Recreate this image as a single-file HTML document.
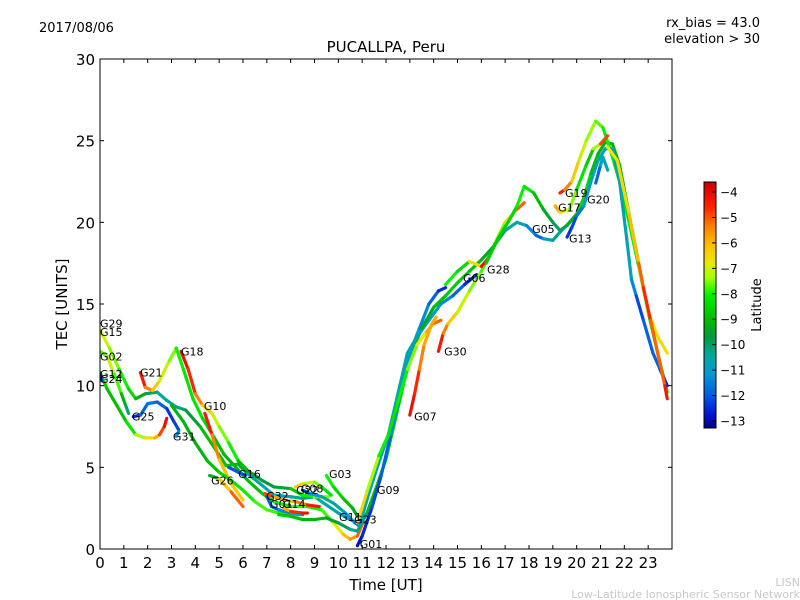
<!DOCTYPE html>
<html><head><meta charset="utf-8"><style>
html,body{margin:0;padding:0;background:#fff;width:800px;height:600px;overflow:hidden}
svg text{font-family:"DejaVu Sans","Liberation Sans",sans-serif}
</style></head><body>
<svg id="chart" width="800" height="600" xmlns="http://www.w3.org/2000/svg">
<defs>
<linearGradient id="cbgrad" x1="0" y1="1" x2="0" y2="0">
<stop offset="0" stop-color="#000090"/>
<stop offset="0.06" stop-color="#0018d0"/>
<stop offset="0.14" stop-color="#0060e0"/>
<stop offset="0.22" stop-color="#0098d8"/>
<stop offset="0.29" stop-color="#00a8a0"/>
<stop offset="0.37" stop-color="#009a40"/>
<stop offset="0.44" stop-color="#00bb00"/>
<stop offset="0.54" stop-color="#00ee00"/>
<stop offset="0.61" stop-color="#a0ff00"/>
<stop offset="0.67" stop-color="#e8e800"/>
<stop offset="0.74" stop-color="#ffc000"/>
<stop offset="0.82" stop-color="#ff8000"/>
<stop offset="0.9" stop-color="#ff2000"/>
<stop offset="1" stop-color="#c80000"/>
</linearGradient>
<clipPath id="plotclip"><rect x="100" y="59" width="572" height="490"/></clipPath>
</defs>
<text x="39" y="32" font-size="13">2017/08/06</text>
<text x="760" y="27" font-size="13" text-anchor="end">rx_bias = 43.0</text>
<text x="760" y="43" font-size="13" text-anchor="end">elevation &gt; 30</text>
<text x="386" y="52" font-size="15" text-anchor="middle">PUCALLPA, Peru</text>
<text x="386" y="590" font-size="15" text-anchor="middle">Time [UT]</text>
<text x="67" y="304" font-size="15" text-anchor="middle" transform="rotate(-90 67 304)">TEC [UNITS]</text>
<text x="800" y="586" font-size="11" fill="#c8c8c8" text-anchor="end">LISN</text>
<text x="800" y="598" font-size="11" fill="#c8c8c8" text-anchor="end">Low-Latitude Ionospheric Sensor Network</text>
<g id="tracks" clip-path="url(#plotclip)"></g>
<g id="labels"></g>
<rect x="100" y="59" width="572" height="490" fill="none" stroke="#000" stroke-width="1"/>
<g id="axes"></g>
<rect x="704" y="182" width="12" height="246" fill="url(#cbgrad)" stroke="#000" stroke-width="1"/>
<g id="cbaxis"></g>
<text x="761" y="305" font-size="13" text-anchor="middle" transform="rotate(-90 761 305)">Latitude</text>
</svg>
<script>
const xTicks=[0,1,2,3,4,5,6,7,8,9,10,11,12,13,14,15,16,17,18,19,20,21,22,23];
const yTicks=[0,5,10,15,20,25,30];
const cbTicks=[-4,-5,-6,-7,-8,-9,-10,-11,-12,-13];
// each track: [time(h), TEC, latitude]
const trackNames=["G29","G02","G12","G24","G25","G31","G21","G18","G10","G26","G26b","G16","G32","G01a","G14","G08","G22","G03","G11","G01","G09","G23","G07","G30","G28","G06","G05","G19","G17","G13","G20","G27"];
const trackG29=[[0,13.4,-7],[0.4,12.3,-7.5],[0.8,11,-8],[1.2,9.8,-8.5],[1.5,9.2,-9],[1.9,9.5,-10],[2.4,9.6,-10.5],[2.8,9.1,-11],[3.2,8.7,-10.5],[3.6,8.5,-10.5],[4.2,7.5,-9.5],[4.8,6.2,-9],[5.3,5.1,-9.5],[5.8,5.2,-9],[6.2,4.6,-10.5],[6.8,3.9,-11],[7.3,3.3,-11],[8,3.2,-11],[8.5,3.1,-10.5],[9,3.2,-10.5],[9.5,2.7,-11],[10,2.2,-11],[10.5,1.8,-11.5],[10.8,1.6,-12]];
const trackG02=[[0,12.1,-8.5],[0.3,11.8,-7.5],[0.6,10.7,-7],[0.9,9.5,-9],[1.1,8.7,-10],[1.2,8.3,-11]];
const trackG12=[[0,10.8,-9],[0.3,9.8,-9],[0.7,8.8,-9.5],[1.1,7.8,-9],[1.5,7,-8],[1.9,6.8,-7],[2.3,6.8,-6.5],[2.5,7,-5.5],[2.7,7.5,-4.5],[2.8,8,-4]];
const trackG24=[[0,10.6,-12.8],[0.08,10.3,-12.5]];
const trackG25=[[1.4,8.1,-13],[1.7,8.2,-12.5],[2,8.9,-12],[2.4,9,-12],[2.8,8.6,-12.5],[3.1,7.8,-12.8],[3.3,7.3,-12.3]];
const trackG31=[[3.3,7.2,-11.8],[3.2,6.9,-11.5]];
const trackG21=[[1.7,10.8,-4],[1.9,9.9,-5],[2.2,9.7,-6],[2.5,10.3,-7],[2.9,11.5,-7.5],[3.2,12.3,-8],[3.5,11,-8.5],[3.9,9.2,-8.5],[4.3,8,-8.5],[4.8,6.8,-9],[5.2,5.8,-9.5],[5.7,5,-9.5],[6.2,4.2,-9.5],[6.8,3.4,-9],[7.3,2.9,-8.5],[8,2.6,-8],[8.7,2.6,-8],[9.3,2.4,-8.5],[9.8,1.6,-7.5],[10.2,0.9,-6.5],[10.5,0.6,-6],[10.8,0.8,-5.5],[11,1.5,-5]];
const trackG18=[[3.4,12.1,-4],[3.7,11,-4.5],[4,9.5,-5],[4.3,8.8,-6],[4.7,8.3,-7],[5,7.5,-7.5],[5.4,6.5,-8],[5.8,5.4,-8.5],[6.2,4.8,-10],[6.8,4.2,-10],[7.3,3.8,-10],[8,3.7,-9.5],[8.5,3.3,-8.5],[9,3.2,-8],[9.6,3.2,-7.5]];
const trackG10=[[4.4,8.3,-4],[4.7,7,-5],[5,5.5,-6],[5.5,4,-6.5],[6,3,-6.5]];
const trackG26=[[3,8.8,-9.5],[3.5,7.8,-9.5],[4,6.5,-9.5],[4.5,5.4,-9.5],[5,4.7,-9],[5.5,4.2,-8.5],[6,3.6,-8.5],[6.5,2.9,-8],[7,2.4,-8],[7.5,2.2,-8],[8,2.1,-8.5],[8.5,2.1,-8]];
const trackG26b=[[4.6,4.5,-12.5],[5,4.3,-7],[5.5,3.5,-6],[6,2.6,-4.5]];
const trackG16=[[5.4,5,-12],[5.8,4.7,-12.8],[6.1,4.5,-12]];
const trackG32=[[6.9,3.4,-4.5],[7.3,3.2,-5.5],[7.7,3,-6.5],[8.2,2.9,-6],[8.7,2.7,-5],[9.2,2.6,-4]];
const trackG01a=[[7,3.2,-12],[7.2,2.6,-12.5],[7.5,2.4,-12],[8,2.2,-11.5],[8.5,2.1,-11]];
const trackG14=[[7.7,2.5,-7],[8,2.3,-5],[8.5,2.2,-4.5],[8.7,2.2,-4]];
const trackG08=[[8.2,3.8,-6],[8.5,4,-7],[9,4.1,-7.5],[9.3,3.8,-8],[9.7,3.3,-9]];
const trackG22=[[8.5,3.6,-13],[8.8,3.4,-12],[9.3,3.2,-11],[9.8,2.8,-10.5],[10.3,2.2,-11],[10.7,1.6,-12],[10.9,1.4,-12.5]];
const trackG03=[[9.5,4.5,-8],[9.8,3.8,-8.5],[10.2,3.1,-9],[10.6,2.5,-9.5],[10.8,2,-10]];
const trackG11=[[7.5,2.1,-9],[8,2,-9],[8.5,1.8,-9.5],[9,1.8,-9.5],[9.5,1.9,-9.5],[10,1.6,-10],[10.5,1.2,-10.5],[10.8,1.1,-11],[11.2,2.2,-10],[11.6,3.8,-9],[12,5.5,-9],[12.4,8,-9],[12.8,10.5,-9],[13.2,12.5,-9.5],[13.6,13.8,-10]];
const trackG01=[[10.8,0.2,-13],[11,0.8,-13],[11.4,2.5,-12.5],[11.8,4.5,-12.5],[12.2,7,-12],[12.6,9.5,-11.5],[13,12,-11.5],[13.4,13.5,-11.5],[13.8,15,-12],[14.2,15.8,-12.5],[14.5,16,-13]];
const trackG09=[[10.9,1.5,-11],[11.3,3.5,-11],[11.7,5.3,-11],[12.1,7,-11],[12.5,9.5,-11],[12.9,12,-11],[13.3,13,-11],[13.8,14,-11],[14.3,15,-11.5],[14.8,15.5,-12],[15.3,16.2,-12.5],[15.8,16.8,-13]];
const trackG23=[[10.8,1.6,-6.5],[11.2,3.5,-7],[11.7,5.7,-8],[12.1,7,-8.5],[12.5,9,-8.5],[12.9,11,-8],[13.3,12.5,-7.5],[13.7,13.3,-6.5],[14,13.8,-5.5],[14.3,14,-5]];
const trackG07=[[13,8.2,-4],[13.2,9.5,-4.5],[13.4,11,-5],[13.6,12.5,-6],[13.9,13.7,-6],[14.1,14.2,-6]];
const trackG30=[[14.2,12.1,-4],[14.4,13.2,-5],[14.6,13.8,-6],[15,14.5,-7],[15.5,15.8,-7.5],[16,17,-8],[16.5,18.5,-8],[17,20,-7.5],[17.5,20.8,-6],[17.8,21.2,-4.5]];
const trackG28=[[13.5,13.5,-10],[14,14.8,-9.5],[14.5,15.5,-9],[15,16.3,-9],[15.5,17,-9],[16,17.7,-9.5],[16.5,18.5,-10],[17,19.5,-10.5],[17.5,20,-11],[17.9,19.8,-11],[18.3,19.2,-12.5],[18.6,19,-12],[19,18.9,-10.5],[19.3,19.4,-10.5],[19.7,20,-11.5],[20,20.5,-12.5]];
const trackG06=[[14.5,16.2,-8],[15,17,-8.5],[15.5,17.6,-9],[16,17.3,-4.5],[16.3,17.8,-4]];
const trackG05=[[16.2,17.5,-9],[16.7,19,-9],[17.2,20.2,-9],[17.5,21,-8.5],[17.8,22.2,-8],[18.2,21.8,-9],[18.6,20.8,-9.5],[19,20,-10],[19.3,19.5,-10.5],[19.6,19.8,-10],[20,20.5,-9],[20.3,21.5,-8.5],[20.6,23,-9],[20.9,24.2,-9.5],[21.2,24.9,-9.5],[21.5,24.8,-9.5],[21.8,23.5,-9.5],[22.2,20.5,-9.5],[22.6,17.5,-9.5],[23,14.5,-8.5],[23.4,12,-8.5],[23.8,9.6,-9]];
const trackG19=[[19.3,21.8,-4],[19.5,22,-5],[19.8,22.5,-6],[20.1,23.8,-7],[20.4,25,-7.5],[20.8,26.2,-7.8],[21.1,25.8,-8],[21.4,24.5,-8.5],[21.8,22.5,-8.5],[22.2,20,-8.5],[22.6,17.3,-8],[23,14.5,-7],[23.4,13,-6.8],[23.8,12,-6.8]];
const trackG17=[[19.1,21,-5.5],[19.3,20.6,-6.5],[19.7,20.8,-7.5],[20,22,-8],[20.4,23.5,-9],[20.7,24.5,-9],[21,24.8,-6],[21.3,25.3,-4]];
const trackG13=[[19.6,19.1,-12.8],[19.8,19.7,-12.5],[20,20.4,-12.5],[20.3,21,-11.5],[20.6,22.5,-11],[20.9,23.8,-11],[21.2,24.5,-11],[21.5,24.5,-11],[21.8,22.5,-11],[22.1,19,-11],[22.3,16.5,-11],[22.5,15.5,-12.5],[22.8,14,-12.5],[23.2,12,-12],[23.5,11,-12.5],[23.8,10,-13]];
const trackG20=[[20.8,22.4,-12.8],[21,23.5,-11.5],[21.1,24,-11],[21.3,23.2,-11]];
const trackG27=[[21.3,24.6,-7],[21.7,23.8,-7],[22.2,20.5,-6.5],[22.6,17.5,-6],[22.8,16,-4.5],[23.1,14,-5],[23.4,12,-5.5],[23.7,10,-5],[23.8,9.2,-4]];
const tracks=[trackG29,trackG02,trackG12,trackG24,trackG25,trackG31,trackG21,trackG18,trackG10,trackG26,trackG26b,trackG16,trackG32,trackG01a,trackG14,trackG08,trackG22,trackG03,trackG11,trackG01,trackG09,trackG23,trackG07,trackG30,trackG28,trackG06,trackG05,trackG19,trackG17,trackG13,trackG20,trackG27];
const labelNames=["G29","G15","G02","G12","G24","G21","G25","G18","G10","G31","G26","G16","G32","G01","G14","G22","G08","G03","G11","G23","G09","G01","G07","G30","G06","G28","G05","G13","G17","G19","G20"];
const labelTimes=[0,0,0,0,0,1.68,1.34,3.4,4.36,3.06,4.66,5.8,6.97,7.13,7.68,8.23,8.43,9.61,10.03,10.66,11.62,10.9,13.18,14.44,15.23,16.24,18.13,19.68,19.22,19.51,20.44];
const labelTecs=[13.8,13.3,11.8,10.7,10.4,10.8,8.1,12.1,8.75,6.9,4.2,4.6,3.25,2.75,2.75,3.6,3.7,4.6,1.95,1.8,3.6,0.3,8.1,12.1,16.6,17.1,19.6,19.0,20.9,21.8,21.4];

const NS="http://www.w3.org/2000/svg";
const X=t=>100+t*(572/24);
const Y=v=>549-v*(490/30);
const cbY=l=>192+(-4-l)*(229/9);
const stops=[[-13.3,[0,0,144]],[-12.9,[0,24,208]],[-12.3,[0,96,224]],[-11.5,[0,152,216]],[-10.8,[0,168,160]],[-10.0,[0,154,64]],[-9.3,[0,187,0]],[-8.3,[0,238,0]],[-7.6,[160,255,0]],[-7.0,[232,232,0]],[-6.3,[255,192,0]],[-5.5,[255,128,0]],[-4.7,[255,32,0]],[-3.6,[200,0,0]]];
function color(l){
 if(l<=stops[0][0])return "rgb("+stops[0][1]+")";
 for(let i=1;i<stops.length;i++){
  if(l<=stops[i][0]){const a=stops[i-1],b=stops[i],f=(l-a[0])/(b[0]-a[0]);
   const c=a[1].map((v,k)=>Math.round(v+(b[1][k]-v)*f));return "rgb("+c.join(",")+")";}
 }
 return "rgb("+stops[stops.length-1][1]+")";
}
const tg=document.getElementById('tracks');
tracks.forEach((tr,ti)=>{
 const g=document.createElementNS(NS,'g');
 
 
 for(let i=1;i<tr.length;i++){
  const a=tr[i-1],b=tr[i];
  const ln=document.createElementNS(NS,'line');
  ln.setAttribute('x1',X(a[0]));ln.setAttribute('y1',Y(a[1]));
  ln.setAttribute('x2',X(b[0]));ln.setAttribute('y2',Y(b[1]));
  ln.setAttribute('stroke',color((a[2]+b[2])/2));
  ln.setAttribute('stroke-width','3.2');ln.setAttribute('stroke-linecap','round');
  
  
  g.appendChild(ln);
 }
 tg.appendChild(g);
});
const lg=document.getElementById('labels');
labelNames.forEach((n,i)=>{
 const t=document.createElementNS(NS,'text');
 t.setAttribute('x',X(labelTimes[i]));t.setAttribute('y',Y(labelTecs[i])+4);
 t.setAttribute('font-size','11');t.textContent=n;
 
 
 lg.appendChild(t);
});
const ax=document.getElementById('axes');
function mk(tag,attrs,txt){const e=document.createElementNS(NS,tag);for(const k in attrs)e.setAttribute(k,attrs[k]);if(txt!==undefined)e.textContent=txt;return e;}
xTicks.forEach(v=>{
 const x=X(v);
 const t1=mk('line',{x1:x,y1:549,x2:x,y2:545,stroke:'#000'});
 
 
 ax.appendChild(t1);
 const t2=mk('line',{x1:x,y1:59,x2:x,y2:63,stroke:'#000'});
 
 
 ax.appendChild(t2);
 const lb=mk('text',{x:x,y:568,'font-size':'15','text-anchor':'middle'},String(v));
 
 
 ax.appendChild(lb);
});
yTicks.forEach(v=>{
 const y=Y(v);
 const t1=mk('line',{x1:100,y1:y,x2:104,y2:y,stroke:'#000'});
 
 
 ax.appendChild(t1);
 const t2=mk('line',{x1:672,y1:y,x2:668,y2:y,stroke:'#000'});
 
 
 ax.appendChild(t2);
 const lb=mk('text',{x:95,y:y+6,'font-size':'15','text-anchor':'end'},String(v));
 
 
 ax.appendChild(lb);
});
const cb=document.getElementById('cbaxis');
cbTicks.forEach(v=>{
 const y=cbY(v);
 const t=mk('line',{x1:716,y1:y,x2:712,y2:y,stroke:'#000'});
 
 
 cb.appendChild(t);
 const lb=mk('text',{x:720,y:y+4.5,'font-size':'12'},'\u2212'+Math.abs(v));
 
 
 cb.appendChild(lb);
});
</script>
</body></html>
